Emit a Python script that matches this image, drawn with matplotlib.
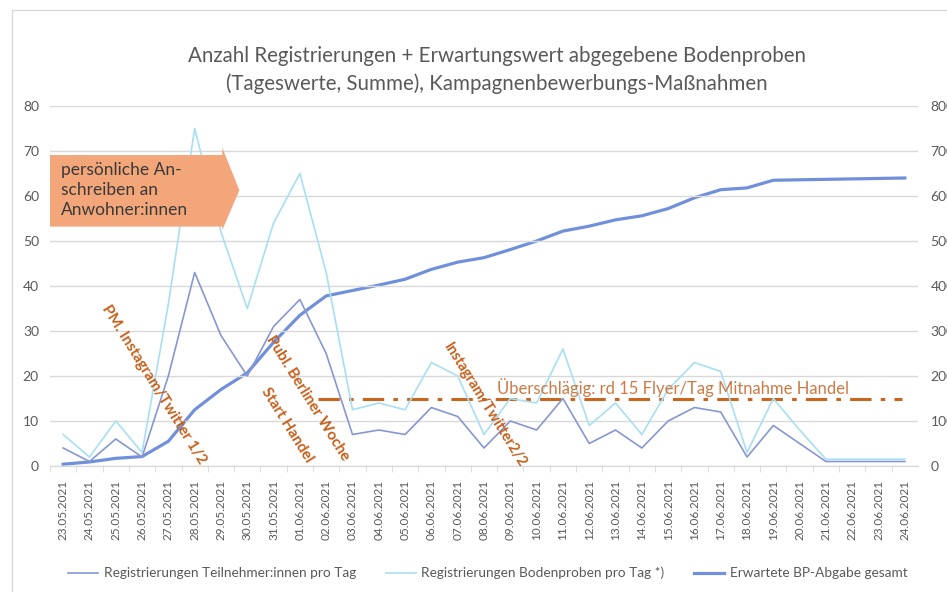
import matplotlib
matplotlib.use("Agg")
import matplotlib.pyplot as plt
from matplotlib.patches import Polygon, Rectangle
from matplotlib.lines import Line2D

plt.rcParams['font.family'] = ['Lato', 'DejaVu Sans']

# dates of the campaign (daily)
dates = ['23.05.2021', '24.05.2021', '25.05.2021', '26.05.2021', '27.05.2021',
         '28.05.2021', '29.05.2021', '30.05.2021', '31.05.2021', '01.06.2021',
         '02.06.2021', '03.06.2021', '04.06.2021', '05.06.2021', '06.06.2021',
         '07.06.2021', '08.06.2021', '09.06.2021', '10.06.2021', '11.06.2021',
         '12.06.2021', '13.06.2021', '14.06.2021', '15.06.2021', '16.06.2021',
         '17.06.2021', '18.06.2021', '19.06.2021', '20.06.2021', '21.06.2021',
         '22.06.2021', '23.06.2021', '24.06.2021']

# registrations participants per day (left axis)
teilnehmer = [4, 1, 6, 2, 20, 43, 29, 20, 31, 37, 25, 7, 8, 7, 13, 11, 4,
              10, 8, 15, 5, 8, 4, 10, 13, 12, 2, 9, 5, 1, 1, 1, 1]
# registrations soil samples per day (left axis)
bodenproben = [7, 2, 10, 3, 36, 75, 52, 35, 54, 65, 43, 12.5, 14, 12.5, 23, 20, 7,
               15, 14, 26, 9, 14, 7, 17, 23, 21, 3, 15, 8, 1.5, 1.5, 1.5, 1.5]
# expected soil samples total (right axis)
bp_gesamt = [4, 9, 17, 21, 55, 125, 170, 207, 275, 335, 378, 390, 402, 415, 437,
             453, 463, 481, 500, 522, 533, 547, 556, 572, 596, 614, 618, 635,
             636, 637, 638, 639, 640]

flyer_level = 15

grey = '#595959'
c_teil = '#8797D4'
c_boden = '#A8DFF3'
c_gesamt = '#7190DB'
orange = '#C5601C'

fig = plt.figure(figsize=(9.47, 5.92), dpi=100)
# outer chart frame (cropped on right and bottom)
fig.patches.append(Rectangle((12 / 947, -0.05), 1.0, 1 - 10 / 592 + 0.05,
                             transform=fig.transFigure, fill=False,
                             edgecolor='#D9D9D9', lw=1))

ax = fig.add_axes([50 / 947, 126 / 592, 868 / 947, 360 / 592])
ax2 = ax.twinx()

x = list(range(len(dates)))
ax.plot(x, teilnehmer, color=c_teil, lw=1.2, zorder=3)
ax.plot(x, bodenproben, color=c_boden, lw=1.2, zorder=3)
ax2.plot(x, bp_gesamt, color=c_gesamt, lw=2.3, zorder=3)

ax.set_xlim(-0.5, len(dates) - 0.5)
ax.set_ylim(0, 80)
ax2.set_ylim(0, 800)
ax.set_yticks(range(0, 81, 10))
ax2.set_yticks(range(0, 801, 100))
ax.grid(axis='y', color='#D9D9D9', lw=1)
ax.set_axisbelow(True)
for a in (ax, ax2):
    for s in ('left', 'right', 'top'):
        a.spines[s].set_visible(False)
    a.spines['bottom'].set_color('#D9D9D9')
ax.tick_params(axis='y', length=0, pad=8, labelsize=10, labelcolor=grey)
ax2.tick_params(axis='y', length=0, pad=9, labelsize=10, labelcolor=grey)
ax.set_xticks(x)
ax.set_xticklabels(dates, rotation=90, fontsize=8.5, color=grey)
ax.set_xticks([i + 0.5 for i in x[:-1]] + [-0.5], minor=True)
ax.tick_params(axis='x', which='major', length=0, pad=10)
ax.tick_params(axis='x', which='minor', length=4, color='#D9D9D9')
ax.set_zorder(ax2.get_zorder() + 1)
ax.patch.set_visible(False)

# dash-dot flyer estimate
ax.plot([9.7, 31.9], [flyer_level, flyer_level], color='#C8651F', lw=2.2,
        ls=(0, (7, 3, 1.5, 3)), zorder=2)
ax.text(16.5, 17.4, 'Überschlägig: rd 15 Flyer/Tag Mitnahme Handel',
        color='#CD7A45', fontsize=12, va='center', ha='left', zorder=4)

# arrow box
arrow = Polygon([(-0.5, 69.1), (6.05, 69.1), (6.05, 70.7), (6.7, 61.3),
                 (6.05, 52.4), (6.05, 53.2), (-0.5, 53.2)],
                closed=True, facecolor='#F3A679', edgecolor='none',
                zorder=5, clip_on=False)
ax.add_patch(arrow)
ax.text(-0.08, 61.3, 'persönliche An-\nschreiben an\nAnwohner:innen',
        fontsize=12.5, color='#3A3A3A', va='center', ha='left',
        linespacing=1.3, zorder=6)

# rotated campaign notes
rot = -58
ax.text(3.45, 18.0, 'PM. Instagram/Twitter 1/2', rotation=rot, color=orange,
        fontsize=11, fontweight='bold', ha='center', va='center',
        rotation_mode='anchor', zorder=6)
ax.text(9.3, 15.1, 'Publ. Berliner Woche', rotation=rot, color=orange,
        fontsize=11, fontweight='bold', ha='center', va='center',
        rotation_mode='anchor', zorder=6)
ax.text(8.5, 9.2, 'Start Handel', rotation=rot, color=orange,
        fontsize=11, fontweight='bold', ha='center', va='center',
        rotation_mode='anchor', zorder=6)
ax.text(16.05, 13.5, 'Instagram/Twitter2/2', rotation=rot, color=orange,
        fontsize=10.5, fontweight='bold', ha='center', va='center',
        rotation_mode='anchor', zorder=6)

fig.text(497 / 947, 1 - 70 / 592,
         'Anzahl Registrierungen + Erwartungswert abgegebene Bodenproben\n'
         '(Tageswerte, Summe), Kampagnenbewerbungs-Maßnahmen',
         ha='center', va='center', fontsize=14.8, color=grey, linespacing=1.5)

handles = [Line2D([], [], color=c_teil, lw=1.2),
           Line2D([], [], color=c_boden, lw=1.2),
           Line2D([], [], color=c_gesamt, lw=2.3)]
labels = ['Registrierungen Teilnehmer:innen pro Tag',
          'Registrierungen Bodenproben pro Tag *)',
          'Erwartete BP-Abgabe gesamt']
leg = fig.legend(handles, labels, loc='center', bbox_to_anchor=(0.515, 1 - 573 / 592),
                 ncol=3, frameon=False, fontsize=9.8, handlelength=2.2,
                 columnspacing=2.2, handletextpad=0.4)
for t in leg.get_texts():
    t.set_color(grey)

fig.savefig('out.png', dpi=100)
